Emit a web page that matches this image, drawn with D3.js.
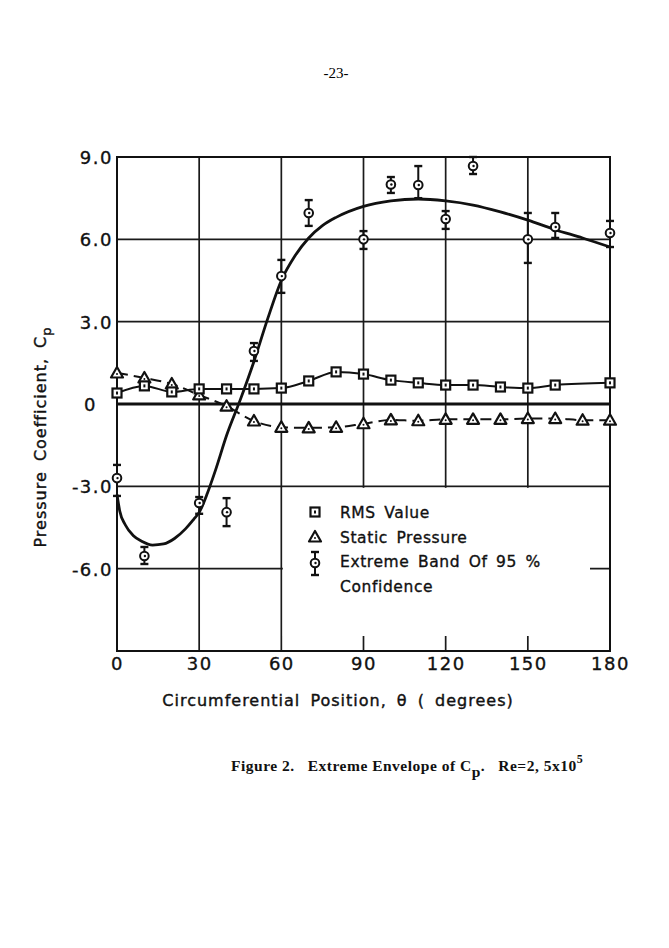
<!DOCTYPE html>
<html>
<head>
<meta charset="utf-8">
<script src="https://cdn.jsdelivr.net/npm/d3@7"></script>
<style>
    body { margin: 0; background: #fff; }
    svg { display: block; }
    .grid { stroke: #1a1a1a; stroke-width: 1.7; }
    .tickLabel { font-family: "DejaVu Sans", sans-serif; font-size: 18px; fill: #111; stroke: #111; stroke-width: 0.35; letter-spacing: 1.5px; }
    .legendText { font-family: "DejaVu Sans", sans-serif; font-size: 15.5px; fill: #111; stroke: #111; stroke-width: 0.35; letter-spacing: 0.6px; word-spacing: 3px; }
    .axisTitle { font-family: "DejaVu Sans", sans-serif; font-size: 16px; fill: #111; stroke: #111; stroke-width: 0.4; letter-spacing: 1px; word-spacing: 4px; }
    .caption { font-family: "Liberation Serif", serif; font-weight: bold; font-size: 15.5px; fill: #111; letter-spacing: 0.5px; }
</style>
</head>
<body>
<script>
(function(){

    //RMS value (squares, solid line)
    var rmsTheta = [0, 10, 20, 30, 40, 50, 60, 70, 80, 90, 100, 110, 120, 130, 140, 150, 160, 180];
    var rmsValue = [0.40, 0.66, 0.44, 0.55, 0.55, 0.55, 0.58, 0.84, 1.17, 1.09, 0.87, 0.77, 0.69, 0.69, 0.62, 0.58, 0.69, 0.77];

    //static pressure (triangles, dashed line)
    var staticTheta = [0, 10, 20, 30, 40, 50, 60, 70, 80, 90, 100, 110, 120, 130, 140, 150, 160, 170, 180];
    var staticValue = [1.13, 0.95, 0.73, 0.33, -0.08, -0.62, -0.85, -0.87, -0.85, -0.72, -0.58, -0.61, -0.56, -0.56, -0.56, -0.53, -0.53, -0.59, -0.59];

    //extreme band of 95% confidence (circle + bar)
    var bandTheta = [0, 10, 30, 40, 50, 60, 70, 90, 100, 110, 120, 130, 150, 160, 180];
    var bandMid  = [-2.70, -5.54, -3.61, -3.94, 1.93, 4.66, 6.96, 6.00, 8.00, 7.98, 6.74, 8.67, 6.00, 6.45, 6.23];
    var bandHigh = [-2.22, -5.21, -3.39, -3.43, 2.22, 5.25, 7.43, 6.30, 8.27, 8.67, 7.03, 9.00, 6.96, 6.96, 6.67];
    var bandLow  = [-3.35, -5.83, -4.00, -4.45, 1.57, 4.05, 6.49, 5.65, 7.69, 7.50, 6.38, 8.38, 5.14, 6.05, 5.72];

    //extreme envelope curve
    var envTheta = [0, 1, 3, 6, 9, 13, 17, 21, 25, 28, 30, 33, 36, 40, 45, 50, 55, 60, 65, 70, 75, 80, 90, 100, 110, 120, 130, 140, 150, 160, 170, 180];
    var envValue = [-3.3, -3.9, -4.4, -4.8, -5.0, -5.14, -5.1, -4.9, -4.55, -4.2, -3.95, -3.25, -2.4, -1.15, 0.15, 1.55, 3.1, 4.5, 5.4, 6.05, 6.5, 6.8, 7.2, 7.4, 7.47, 7.4, 7.25, 7.0, 6.7, 6.35, 6.05, 5.72];

    //axis ticks
    var xTicks = [0, 30, 60, 90, 120, 150, 180];
    var xTickLabels = ["0", "30", "60", "90", "120", "150", "180"];
    var yTicks = [9, 6, 3, 0, -3, -6];
    var yTickLabels = ["9.0", "6.0", "3.0", "0", "-3.0", "-6.0"];
    var legendLabels = ["RMS Value", "Static Pressure", "Extreme Band Of 95 %", "Confidence"];

    var width = 669, height = 948;
    var svg = d3.select("body").append("svg")
        .attr("width", width)
        .attr("height", height);

    //plot frame
    var left = 117, right = 610, top = 157, bottom = 651;
    var x = d3.scaleLinear().domain([0, 180]).range([left, right]);
    var y = d3.scaleLinear().domain([-9, 9]).range([bottom, top]);

    //page number
    svg.append("text")
        .attr("x", 336).attr("y", 78)
        .attr("text-anchor", "middle")
        .style("font-family", "Liberation Serif, serif")
        .style("font-size", "15px")
        .text("-23-");

    //grid lines (vertical, then horizontal)
    svg.selectAll(".vgrid")
        .data(xTicks.slice(1, -1))
        .enter().append("line")
        .attr("class", "grid")
        .attr("x1", function(d){ return x(d); })
        .attr("x2", function(d){ return x(d); })
        .attr("y1", top).attr("y2", bottom);

    svg.selectAll(".hgrid")
        .data([6, 3, -3, -6])
        .enter().append("line")
        .attr("class", "grid")
        .attr("x1", left).attr("x2", right)
        .attr("y1", function(d){ return y(d); })
        .attr("y2", function(d){ return y(d); });

    //white box behind the legend hides part of the grid
    svg.append("rect")
        .attr("x", x(60) + 1.5)
        .attr("y", y(-3) + 1.5)
        .attr("width", 590 - x(60) - 1.5)
        .attr("height", 636 - y(-3) - 1.5)
        .attr("fill", "#fff");

    //zero line
    svg.append("line")
        .attr("x1", left).attr("x2", right)
        .attr("y1", y(0)).attr("y2", y(0))
        .attr("stroke", "#111").attr("stroke-width", 3.2);

    //frame
    svg.append("rect")
        .attr("x", left).attr("y", top)
        .attr("width", right - left).attr("height", bottom - top)
        .attr("fill", "none").attr("stroke", "#111").attr("stroke-width", 2);

    //x axis labels
    var xAxis = d3.axisBottom(x)
        .tickValues(xTicks)
        .tickSize(0)
        .tickPadding(6)
        .tickFormat(function(d, i){ return xTickLabels[i]; });
    var gx = svg.append("g")
        .attr("transform", "translate(0," + bottom + ")")
        .call(xAxis);
    gx.select(".domain").remove();
    gx.selectAll("text").attr("class", "tickLabel").attr("fill", null);
    gx.attr("font-size", null).attr("font-family", null);

    //y axis labels, decimal aligned
    var yAxis = d3.axisLeft(y)
        .tickValues(yTicks)
        .tickSize(0)
        .tickPadding(4)
        .tickFormat(function(d, i){ return yTickLabels[i]; });
    var gy = svg.append("g")
        .attr("transform", "translate(" + left + ",0)")
        .call(yAxis);
    gy.select(".domain").remove();
    gy.attr("font-size", null).attr("font-family", null);
    gy.selectAll("text")
        .attr("class", "tickLabel")
        .attr("fill", null)
        .attr("dy", "0.36em")
        .attr("x", function(d){ return d === 0 ? -20 : -4; });

    //line generators
    var envLine = d3.line()
        .x(function(d){ return x(envTheta[d]); })
        .y(function(d){ return y(envValue[d]); })
        .curve(d3.curveMonotoneX);
    var rmsLine = d3.line()
        .x(function(d){ return x(rmsTheta[d]); })
        .y(function(d){ return y(rmsValue[d]); })
        .curve(d3.curveMonotoneX);
    var staticLine = d3.line()
        .x(function(d){ return x(staticTheta[d]); })
        .y(function(d){ return y(staticValue[d]); })
        .curve(d3.curveMonotoneX);

    svg.append("path")
        .datum(d3.range(envTheta.length))
        .attr("d", envLine)
        .attr("fill", "none").attr("stroke", "#111").attr("stroke-width", 2.8);

    svg.append("path")
        .datum(d3.range(staticTheta.length))
        .attr("d", staticLine)
        .attr("fill", "none").attr("stroke", "#111").attr("stroke-width", 2)
        .attr("stroke-dasharray", "11,6");

    svg.append("path")
        .datum(d3.range(rmsTheta.length))
        .attr("d", rmsLine)
        .attr("fill", "none").attr("stroke", "#111").attr("stroke-width", 2);

    //marker helpers
    function drawSquare(g, cx, cy){
        g.append("rect")
            .attr("x", cx - 4.5).attr("y", cy - 4.5)
            .attr("width", 9).attr("height", 9)
            .attr("fill", "#fff").attr("stroke", "#111").attr("stroke-width", 2.2);
        g.append("rect")
            .attr("x", cx - 1).attr("y", cy - 1.5)
            .attr("width", 2).attr("height", 3)
            .attr("fill", "#111");
    }
    function drawTriangle(g, cx, cy){
        g.append("path")
            .attr("transform", "translate(" + cx + "," + cy + ")")
            .attr("d", "M0,-6L6,4.5L-6,4.5Z")
            .attr("fill", "#fff").attr("stroke", "#111").attr("stroke-width", 2.2)
            .attr("stroke-linejoin", "round");
        g.append("circle")
            .attr("cx", cx).attr("cy", cy + 1)
            .attr("r", 1).attr("fill", "#111");
    }
    function drawBand(g, cx, cyMid, cyHigh, cyLow){
        g.append("line")
            .attr("x1", cx).attr("x2", cx)
            .attr("y1", cyHigh).attr("y2", cyLow)
            .attr("stroke", "#111").attr("stroke-width", 2);
        [cyHigh, cyLow].forEach(function(c){
            g.append("line")
                .attr("x1", cx - 4).attr("x2", cx + 4)
                .attr("y1", c).attr("y2", c)
                .attr("stroke", "#111").attr("stroke-width", 2.4);
        });
        g.append("circle")
            .attr("cx", cx).attr("cy", cyMid).attr("r", 4.3)
            .attr("fill", "#fff").attr("stroke", "#111").attr("stroke-width", 2);
        g.append("circle")
            .attr("cx", cx + 0.5).attr("cy", cyMid).attr("r", 1.2)
            .attr("fill", "#111");
    }

    //draw markers from the data
    var marks = svg.append("g").attr("class", "marks");
    bandTheta.forEach(function(t, i){
        drawBand(marks, x(t), y(bandMid[i]), y(bandHigh[i]), y(bandLow[i]));
    });
    staticTheta.forEach(function(t, i){
        drawTriangle(marks, x(t), y(staticValue[i]));
    });
    rmsTheta.forEach(function(t, i){
        drawSquare(marks, x(t), y(rmsValue[i]));
    });

    //legend
    var legend = svg.append("g").attr("class", "legend");
    drawSquare(legend, 315, 512);
    drawTriangle(legend, 315, 537);
    drawBand(legend, 315, 563, 552, 575);
    legend.selectAll(".legendText")
        .data(legendLabels)
        .enter().append("text")
        .attr("class", "legendText")
        .attr("x", 340)
        .attr("y", function(d, i){ return 518 + i * 24.5; })
        .text(function(d){ return d; });

    //axis titles
    svg.append("text")
        .attr("class", "axisTitle")
        .attr("x", 338).attr("y", 706)
        .attr("text-anchor", "middle")
        .text("Circumferential Position, θ ( degrees)");

    var yTitle = svg.append("text")
        .attr("class", "axisTitle")
        .attr("transform", "translate(46,437) rotate(-90)")
        .attr("text-anchor", "middle");
    yTitle.append("tspan").text("Pressure  Coefficient,  C");
    yTitle.append("tspan").attr("dy", 5).style("font-size", "13px").text("p");

    //figure caption
    var cap = svg.append("text")
        .attr("class", "caption")
        .attr("x", 231).attr("y", 771)
        .attr("xml:space", "preserve");
    cap.append("tspan").text("Figure 2.   Extreme Envelope of C");
    cap.append("tspan").attr("dy", 6).text("p");
    cap.append("tspan").attr("dy", -6).text(".   Re=2, 5x10");
    cap.append("tspan").attr("dy", -8).style("font-size", "12px").text("5");

})();
</script>
</body>
</html>
